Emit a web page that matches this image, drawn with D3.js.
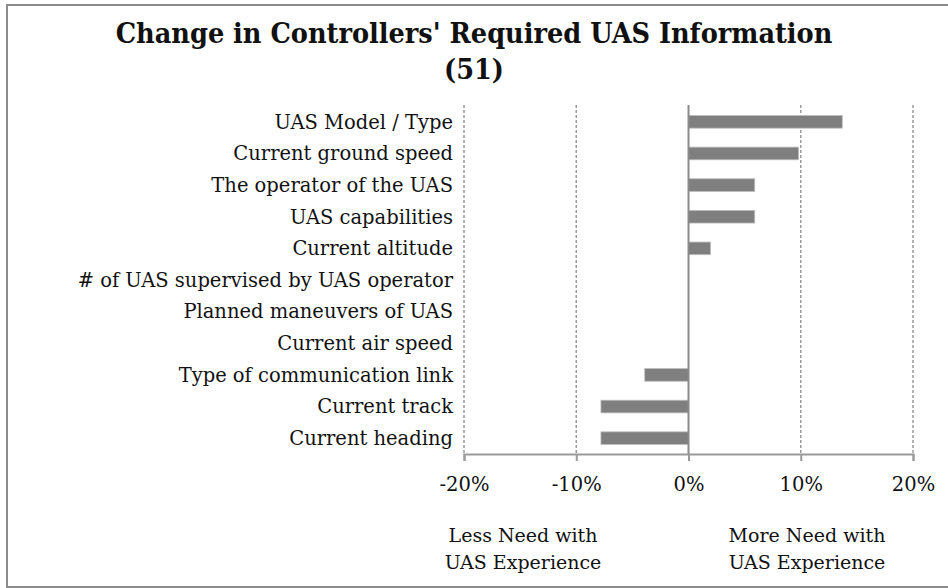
<!DOCTYPE html>
<html>
<head>
<meta charset="utf-8">
<script src="https://cdn.jsdelivr.net/npm/d3@7"></script>
<style>
  body { margin: 0; background: #fff; }
  svg text { font-family: "DejaVu Serif", "Liberation Serif", serif; fill: #111; }
</style>
</head>
<body>
<svg id="chart" width="948" height="588"></svg>
<script>
// categories top to bottom, values = share of 51 controllers
const categories = [
  "UAS Model / Type",
  "Current ground speed",
  "The operator of the UAS",
  "UAS capabilities",
  "Current altitude",
  "# of UAS supervised by UAS operator",
  "Planned maneuvers of UAS",
  "Current air speed",
  "Type of communication link",
  "Current track",
  "Current heading"
];
const values = [0.137, 0.098, 0.059, 0.059, 0.0196, 0, 0, 0, -0.039, -0.078, -0.078];
const tickValues = [-0.2, -0.1, 0, 0.1, 0.2];
const titleLines = ["Change in Controllers' Required UAS Information", "(51)"];
const lessNote = ["Less Need with", "UAS Experience"];
const moreNote = ["More Need with", "UAS Experience"];

const svg = d3.select("#chart");

// outer frame (right edge runs off the page like the original)
svg.append("rect")
    .attr("x", 7).attr("y", 5)
    .attr("width", 960).attr("height", 582)
    .attr("fill", "#fff")
    .attr("stroke", "#8c8c8c")
    .attr("stroke-width", 2);

const plot = {top: 105, bottom: 454, left: 464, right: 913};

const x = d3.scaleLinear().domain([-0.2, 0.2]).range([plot.left, plot.right]);
const y = d3.scaleBand().domain(categories)
    .range([plot.top + 1, plot.bottom])
    .paddingInner(0.6).paddingOuter(0.3);

// title
svg.append("g").selectAll("text")
    .data(titleLines)
    .enter().append("text")
    .attr("x", 474)
    .attr("y", (d, i) => 43 + i * 36)
    .attr("text-anchor", "middle")
    .attr("font-size", 28.5)
    .attr("font-weight", "bold")
    .attr("font-stretch", "condensed")
    .text(d => d);

// dashed gridlines
svg.append("g").selectAll("line")
    .data(tickValues.filter(d => d !== 0))
    .enter().append("line")
    .attr("x1", d => x(d)).attr("x2", d => x(d))
    .attr("y1", plot.top).attr("y2", plot.bottom)
    .attr("stroke", "#9a9a9a")
    .attr("stroke-width", 1.5)
    .attr("stroke-dasharray", "3,2");

// bars
svg.append("g").selectAll("rect")
    .data(values)
    .enter().append("rect")
    .attr("x", d => x(Math.min(0, d)))
    .attr("y", (d, i) => y(categories[i]))
    .attr("width", d => Math.abs(x(d) - x(0)))
    .attr("height", y.bandwidth())
    .attr("fill", "#7f7f7f")
    .attr("stroke", d => d === 0 ? "none" : "#bdbdbd")
    .attr("stroke-width", 0.8);

// zero line
svg.append("line")
    .attr("x1", x(0)).attr("x2", x(0))
    .attr("y1", plot.top).attr("y2", plot.bottom)
    .attr("stroke", "#8a8a8a")
    .attr("stroke-width", 2);

// x axis, plain hyphen for negatives like the original
const pct = d => `${Math.round(d * 100)}%`;
const xAxis = d3.axisBottom(x)
    .tickValues(tickValues)
    .tickSize(7)
    .tickPadding(16)
    .tickFormat(pct);

const gx = svg.append("g")
    .attr("transform", `translate(0, ${plot.bottom})`)
    .call(xAxis);
gx.select(".domain").attr("stroke", "#9a9a9a").attr("stroke-width", 2);
gx.selectAll(".tick line").attr("stroke", "#9a9a9a").attr("stroke-width", 2);
gx.selectAll(".tick text")
    .attr("font-size", 19.5)
    .attr("fill", "#111");
gx.attr("font-family", null).attr("font-size", null);

// category labels
svg.append("g").selectAll("text")
    .data(categories)
    .enter().append("text")
    .attr("x", 453)
    .attr("y", d => y(d) + y.bandwidth() / 2)
    .attr("dy", "0.35em")
    .attr("text-anchor", "end")
    .attr("font-size", 19.5)
    .text(d => d);

// notes under the axis
function note(lines, cx) {
  svg.append("g").selectAll("text")
      .data(lines)
      .enter().append("text")
      .attr("x", cx)
      .attr("y", (d, i) => 542 + i * 27)
      .attr("text-anchor", "middle")
      .attr("font-size", 19)
      .text(d => d);
}
note(lessNote, 523);
note(moreNote, 807);
</script>
</body>
</html>
